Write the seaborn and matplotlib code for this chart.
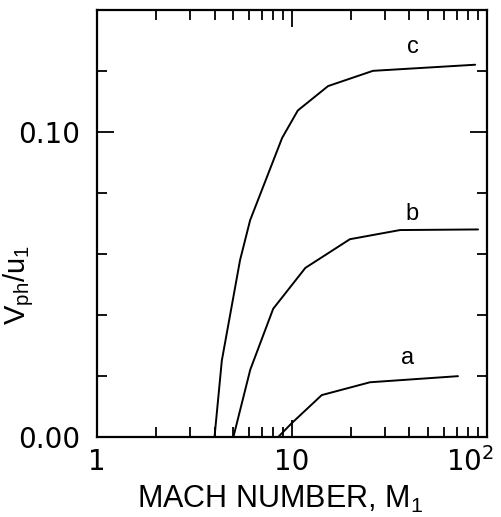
import numpy as np
import pandas as pd
import matplotlib
matplotlib.use("Agg")
import matplotlib.pyplot as plt
import matplotlib.transforms as mtransforms
import seaborn as sns
from matplotlib.ticker import LogLocator, MultipleLocator, FixedLocator, FixedFormatter, NullFormatter

# curve data (Mach number vs V_ph/u_1)
M_A = [8.5, 10.0, 14.2, 25.1, 71.0]
V_A = [0.0, 0.0046, 0.0137, 0.0179, 0.0199]

M_B = [5.0, 6.1, 8.0, 11.7, 19.8, 35.8, 90.0]
V_B = [0.0, 0.022, 0.042, 0.0554, 0.0648, 0.0678, 0.068]

M_C = [4.0, 4.36, 5.41, 6.09, 8.89, 10.7, 15.3, 26.0, 87.0]
V_C = [0.0, 0.025, 0.058, 0.071, 0.098, 0.107, 0.115, 0.120, 0.122]

CURVE_LABELS = ["a", "b", "c"]
LABEL_POS = [(39.0, 0.026), (41.0, 0.073), (41.8, 0.1277)]

X_TICKS = [1, 10, 100]
X_TICKLABELS = ["1", "10", "10$^\\mathregular{2}$"]
Y_TICKS = [0.0, 0.10]
Y_TICKLABELS = ["0.00", "0.10"]

sns.set_style("ticks")
plt.rcParams["font.family"] = ["Liberation Sans", "DejaVu Sans"]
plt.rcParams["mathtext.fontset"] = "custom"
plt.rcParams["mathtext.rm"] = "Liberation Sans"
plt.rcParams["mathtext.it"] = "Liberation Sans"
plt.rcParams["text.color"] = "black"
plt.rcParams["axes.labelcolor"] = "black"

fig = plt.figure(figsize=(5.01, 5.17), dpi=100)
ax = fig.add_axes([0.194, 0.155, 0.778, 0.826])

for m, v in [(M_A, V_A), (M_B, V_B), (M_C, V_C)]:
    df = pd.DataFrame({"M": m, "V": v})
    sns.lineplot(data=df, x="M", y="V", ax=ax, color="black", linewidth=1.4,
                 estimator=None, sort=False)

for lab, (x, y) in zip(CURVE_LABELS, LABEL_POS):
    ax.text(x, y, lab, fontsize=17, ha="center", va="center")

ax.set_xscale("log")
ax.set_xlim(1, 100)
ax.set_ylim(0, 0.14)

ax.xaxis.set_major_locator(FixedLocator(X_TICKS))
ax.xaxis.set_major_formatter(FixedFormatter(X_TICKLABELS))
ax.xaxis.set_minor_locator(LogLocator(base=10, subs=np.arange(2, 10)))
ax.xaxis.set_minor_formatter(NullFormatter())

ax.yaxis.set_major_locator(FixedLocator(Y_TICKS))
ax.yaxis.set_major_formatter(FixedFormatter(Y_TICKLABELS))
ax.yaxis.set_minor_locator(MultipleLocator(0.02))

ax.tick_params(which="both", direction="in", top=True, right=True,
               width=1.3, labelsize=20, colors="black")
ax.tick_params(axis="y", which="both", pad=12)
ax.tick_params(axis="x", which="both", pad=8)
ax.tick_params(which="major", length=12)
ax.tick_params(which="minor", length=7)
for s in ax.spines.values():
    s.set_linewidth(1.6)
    s.set_color("black")

for t in ax.get_xticklabels() + ax.get_yticklabels():
    t.set_fontfamily("DejaVu Sans")

# last x label sits left of the corner as in the original
last = ax.get_xticklabels()[-1]
last.set_horizontalalignment("right")
last.set_transform(last.get_transform() +
                   mtransforms.ScaledTranslation(7 / 100, 0, fig.dpi_scale_trans))

ax.set_xlabel("MACH NUMBER, M$_\\mathregular{1}$", fontsize=22, va="top")
ax.xaxis.set_label_coords(0.47, -0.11)
ax.set_ylabel("V$_\\mathregular{ph}$/u$_\\mathregular{1}$", fontsize=21)
ax.yaxis.set_label_coords(-0.156, 0.356)

fig.savefig("out.png", dpi=100)
